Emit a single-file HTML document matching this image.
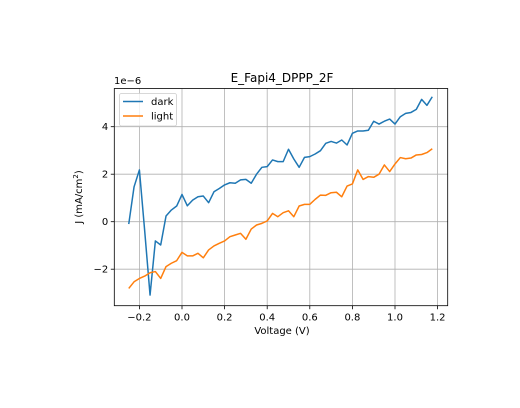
<!DOCTYPE html>
<html><head><meta charset="utf-8"><style>
body{margin:0;background:#fff;}
svg{display:block;font-family:"DejaVu Sans","Liberation Sans",sans-serif;}
</style></head><body>
<svg id="chart" width="520" height="408" xmlns="http://www.w3.org/2000/svg">
<rect width="520" height="408" fill="#fff"/>
<g id="grid"></g>
<g id="series"></g>
<rect x="114.3" y="88.5" width="333.4" height="217.2" fill="none" stroke="#000" stroke-width="0.8"/>
<g id="ticks"></g>
<text x="282" y="82" font-size="12" text-anchor="middle">E_Fapi4_DPPP_2F</text>
<text x="114" y="84" font-size="10">1e−6</text>
<text x="282" y="334" font-size="10" text-anchor="middle">Voltage (V)</text>
<text transform="translate(82,197) rotate(-90)" font-size="10" text-anchor="middle">J (mA/cm<tspan dy="-4" font-size="7">2</tspan><tspan dy="4">)</tspan></text>
<g>
<rect x="119.5" y="93.5" width="57" height="32.5" rx="2" fill="#fff" fill-opacity="0.8" stroke="#ccc" stroke-width="0.8"/>
<line x1="123" y1="101.5" x2="143" y2="101.5" stroke="#1f77b4" stroke-width="1.5"/>
<text x="151" y="105" font-size="10">dark</text>
<line x1="123" y1="116" x2="143" y2="116" stroke="#ff7f0e" stroke-width="1.5"/>
<text x="151" y="119.5" font-size="10">light</text>
</g>
</svg>
<script>
const voltageStart = -0.25;
const voltageStep = 0.025;
const darkValues = [-0.1,1.47,2.18,-0.4,-3.09,-0.81,-0.98,0.24,0.49,0.66,1.15,0.67,0.91,1.05,1.08,0.8,1.26,1.4,1.55,1.64,1.62,1.76,1.78,1.62,2.0,2.29,2.32,2.6,2.53,2.53,3.05,2.64,2.29,2.71,2.74,2.85,2.99,3.3,3.38,3.31,3.44,3.23,3.72,3.82,3.82,3.85,4.23,4.11,4.23,4.32,4.11,4.42,4.56,4.6,4.73,5.15,4.9,5.26];
const lightValues = [-2.81,-2.53,-2.39,-2.29,-2.15,-2.1,-2.39,-1.89,-1.75,-1.64,-1.29,-1.44,-1.44,-1.33,-1.52,-1.19,-1.02,-0.91,-0.81,-0.63,-0.56,-0.49,-0.74,-0.31,-0.14,-0.07,0.03,0.35,0.21,0.38,0.46,0.21,0.66,0.73,0.73,0.94,1.12,1.11,1.22,1.24,1.05,1.5,1.59,2.18,1.78,1.9,1.87,2.0,2.39,2.11,2.43,2.7,2.65,2.68,2.81,2.83,2.91,3.07];
const xTicks = [-0.2,0.0,0.2,0.4,0.6,0.8,1.0,1.2];
const xTickLabels = ["−0.2","0.0","0.2","0.4","0.6","0.8","1.0","1.2"];
const yTicks = [-2,0,2,4];
const yTickLabels = ["−2","0","2","4"];

const NS = "http://www.w3.org/2000/svg";
const L=114.3,R=447.7,T=88.5,B=305.7;
function xs(v){return 182 + 213*v;}
function ys(v){return 221.7 - 23.75*v;}
function mk(tag,attrs,parent){const e=document.createElementNS(NS,tag);for(const k in attrs)e.setAttribute(k,attrs[k]);parent.appendChild(e);return e;}
const grid=document.getElementById('grid'), ticks=document.getElementById('ticks'), series=document.getElementById('series');
xTicks.forEach((t,i)=>{
  const x=xs(t);
  const g=mk('line',{x1:x,x2:x,y1:T,y2:B,stroke:'#b0b0b0','stroke-width':0.8},grid);
  
  
  const tk=mk('line',{x1:x,x2:x,y1:B,y2:B+3.5,stroke:'#000','stroke-width':0.8},ticks);
  
  
  const tx=mk('text',{x:x,y:B+15,'font-size':10,'text-anchor':'middle'},ticks);
  tx.textContent=xTickLabels[i];
  
  
});
yTicks.forEach((t,i)=>{
  const y=ys(t);
  const g=mk('line',{x1:L,x2:R,y1:y,y2:y,stroke:'#b0b0b0','stroke-width':0.8},grid);
  
  
  const tk=mk('line',{x1:L-3.5,x2:L,y1:y,y2:y,stroke:'#000','stroke-width':0.8},ticks);
  
  
  const tx=mk('text',{x:L-6,y:y+3.5,'font-size':10,'text-anchor':'end'},ticks);
  tx.textContent=yTickLabels[i];
  
  
});
function line(vals,color,name){
  const pts=vals.map((v,i)=>xs(voltageStart+i*voltageStep).toFixed(2)+','+ys(v).toFixed(2)).join(' ');
  const p=mk('polyline',{points:pts,fill:'none',stroke:color,'stroke-width':1.5,'stroke-linejoin':'round'},series);
  
  
}
line(darkValues,'#1f77b4','dark-line');
line(lightValues,'#ff7f0e','light-line');
</script>
</body></html>
